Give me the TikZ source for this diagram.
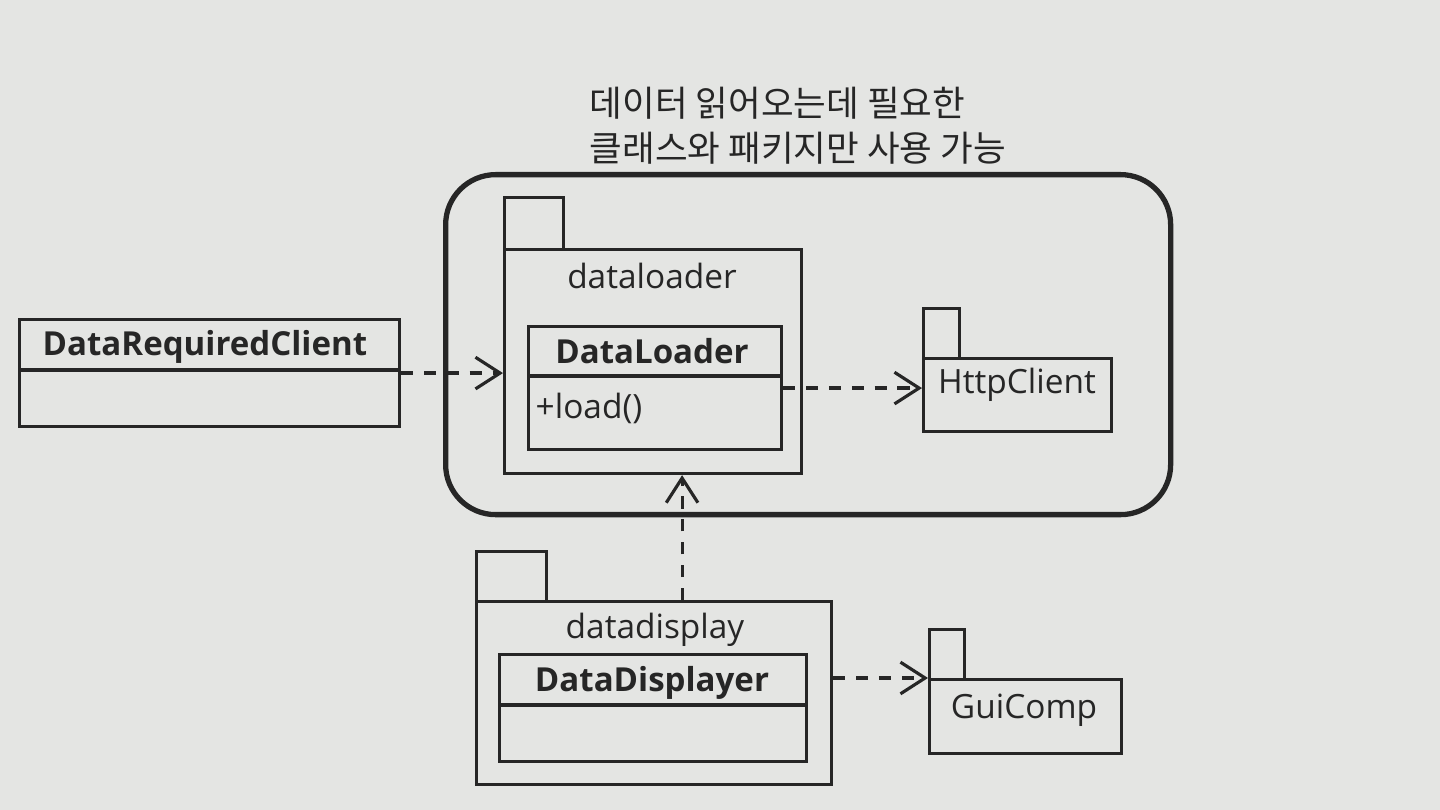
\documentclass[tikz,border=0pt]{standalone}
\usepackage{fontspec}
\setmainfont{Open Sans}
\newfontfamily\krfont{Noto Sans CJK KR}
\usetikzlibrary{arrows.meta,calc}
\definecolor{paper}{RGB}{228,229,227}
\definecolor{ink}{RGB}{38,38,38}
\tikzset{
  box/.style={draw=ink, line width=0.9pt, rectangle, inner sep=0pt, anchor=north west},
  dep/.style={draw=ink, line width=0.9pt, dash pattern=on 3.5pt off 3pt, -{Straight Barb[length=7pt,width=9pt,line width=0.9pt]}},
  lbl/.style={font=\fontsize{9.5}{11}\selectfont, text=ink, inner sep=0pt},
  blbl/.style={font=\fontsize{9.4}{11}\selectfont\bfseries, text=ink, inner sep=0pt},
}
\begin{document}
\begin{tikzpicture}[x=0.01cm,y=-0.01cm]
\fill[paper] (0,0) rectangle (1440,810);
\useasboundingbox (0,0) rectangle (1440,810);

% annotation
\node[anchor=north west, align=left, inner sep=0pt, text=ink,
  font=\krfont\fontsize{10.1}{12.8}\selectfont] (note) at (589,86)
  {데이터 읽어오는데 필요한\\클래스와 패키지만 사용 가능};

% boundary
\node[draw=ink, line width=1.5pt, rounded corners=0.5cm, anchor=north west,
  minimum width=725*0.01cm, minimum height=340*0.01cm, inner sep=0pt] (bound) at (443,172) {};

% DataRequiredClient
\node[box, minimum width=380*0.01cm, minimum height=107*0.01cm] (drc) at (18,318) {};
\draw[ink, line width=0.9pt] (18,370) -- (398,370);
\node[blbl, anchor=west] (drct) at (42,347) {DataRequiredClient};

% dataloader package
\node[box, minimum width=59*0.01cm, minimum height=52*0.01cm] (dltab) at (503,196) {};
\node[box, minimum width=297*0.01cm, minimum height=224*0.01cm] (dlpkg) at (503,248) {};
\node[lbl] (dlname) at (652,276) {dataloader};
\node[box, minimum width=253*0.01cm, minimum height=123*0.01cm] (dlc) at (527,325) {};
\draw[ink, line width=0.9pt] (527,376) -- (780,376);
\node[blbl] (dlct) at (652,351) {DataLoader};
\node[lbl, anchor=west] (load) at (535,408) {+load()};

% HttpClient package
\node[box, minimum width=36*0.01cm, minimum height=50*0.01cm] (httptab) at (922,307) {};
\node[box, minimum width=188*0.01cm, minimum height=73*0.01cm] (http) at (922,357) {};
\node[lbl] (httpt) at (1017,385) {HttpClient};

% datadisplay package
\node[box, minimum width=70*0.01cm, minimum height=50*0.01cm] (ddtab) at (475,550) {};
\node[box, minimum width=355*0.01cm, minimum height=183*0.01cm] (ddpkg) at (475,600) {};
\node[lbl] (ddname) at (655,630) {datadisplay};
\node[box, minimum width=307*0.01cm, minimum height=107*0.01cm] (ddc) at (498,653) {};
\draw[ink, line width=0.9pt] (498,705) -- (805,705);
\node[blbl] (ddct) at (652,683) {DataDisplayer};

% GuiComp package
\node[box, minimum width=35*0.01cm, minimum height=50*0.01cm] (guitab) at (928,628) {};
\node[box, minimum width=192*0.01cm, minimum height=74*0.01cm] (gui) at (928,678) {};
\node[lbl] (guit) at (1024,710) {GuiComp};

% dependencies
\draw[dep] (drc.east) -- (drc.east -| dlpkg.west);
\draw[dep] (dlc.east) -- (dlc.east -| http.west);
\draw[dep] (ddpkg.east |- gui.north west) -- (gui.north west);
\coordinate (vx) at ($(dlpkg.south)+(29,0)$);
\draw[dep] (vx |- ddpkg.north) -- (vx);
\end{tikzpicture}
\end{document}
